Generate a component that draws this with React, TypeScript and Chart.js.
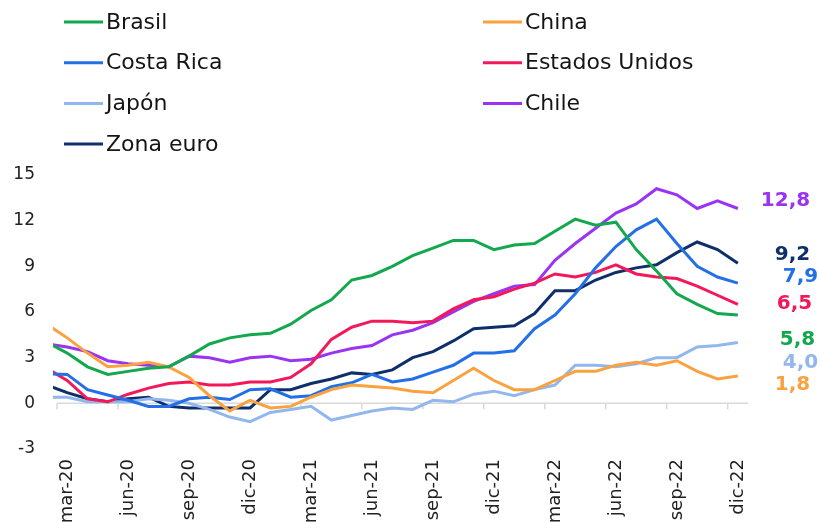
import { useEffect, useRef } from 'react';
import { Chart, registerables } from 'chart.js';

Chart.register(...registerables);

// Monthly year-on-year inflation (%), feb-20 .. dic-22 (feb-20 is only partly visible at the left edge)
const months = [
  'feb-20', 'mar-20', 'abr-20', 'may-20', 'jun-20', 'jul-20', 'ago-20', 'sep-20', 'oct-20', 'nov-20', 'dic-20',
  'ene-21', 'feb-21', 'mar-21', 'abr-21', 'may-21', 'jun-21', 'jul-21', 'ago-21', 'sep-21', 'oct-21', 'nov-21', 'dic-21',
  'ene-22', 'feb-22', 'mar-22', 'abr-22', 'may-22', 'jun-22', 'jul-22', 'ago-22', 'sep-22', 'oct-22', 'nov-22', 'dic-22',
];

const brasil = [
  4.0, 3.3, 2.4, 1.9, 2.1, 2.3, 2.4, 3.1, 3.9, 4.3, 4.5,
  4.6, 5.2, 6.1, 6.8, 8.1, 8.4, 9.0, 9.7, 10.2, 10.7, 10.7, 10.1,
  10.4, 10.5, 11.3, 12.1, 11.7, 11.9, 10.1, 8.7, 7.2, 6.5, 5.9, 5.8,
];
const china = [
  5.2, 4.3, 3.3, 2.4, 2.5, 2.7, 2.4, 1.7, 0.5, -0.5, 0.2,
  -0.3, -0.2, 0.4, 0.9, 1.2, 1.1, 1.0, 0.8, 0.7, 1.5, 2.3, 1.5,
  0.9, 0.9, 1.5, 2.1, 2.1, 2.5, 2.7, 2.5, 2.8, 2.1, 1.6, 1.8,
];
const costaRica = [
  1.95, 1.9, 0.9, 0.55, 0.2, -0.2, -0.2, 0.3, 0.4, 0.25, 0.9,
  0.95, 0.4, 0.5, 1.1, 1.35, 1.9, 1.4, 1.6, 2.05, 2.5, 3.3, 3.3,
  3.45, 4.9, 5.8, 7.2, 8.9, 10.3, 11.4, 12.1, 10.5, 9.0, 8.3, 7.9,
];
const estadosUnidos = [
  2.3, 1.5, 0.3, 0.1, 0.6, 1.0, 1.3, 1.4, 1.2, 1.2, 1.4,
  1.4, 1.7, 2.6, 4.2, 5.0, 5.4, 5.4, 5.3, 5.4, 6.2, 6.8, 7.0,
  7.5, 7.9, 8.5, 8.3, 8.6, 9.1, 8.5, 8.3, 8.2, 7.7, 7.1, 6.5,
];
const japon = [
  0.4, 0.4, 0.1, 0.1, 0.1, 0.3, 0.2, 0.0, -0.4, -0.9, -1.2,
  -0.6, -0.4, -0.2, -1.1, -0.8, -0.5, -0.3, -0.4, 0.2, 0.1, 0.6, 0.8,
  0.5, 0.9, 1.2, 2.5, 2.5, 2.4, 2.6, 3.0, 3.0, 3.7, 3.8, 4.0,
];
const chile = [
  3.9, 3.7, 3.4, 2.8, 2.6, 2.5, 2.4, 3.1, 3.0, 2.7, 3.0,
  3.1, 2.8, 2.9, 3.3, 3.6, 3.8, 4.5, 4.8, 5.3, 6.0, 6.7, 7.2,
  7.7, 7.8, 9.4, 10.5, 11.5, 12.5, 13.1, 14.1, 13.7, 12.8, 13.3, 12.8,
];
const zonaEuro = [
  1.2, 0.7, 0.3, 0.1, 0.3, 0.4, -0.2, -0.3, -0.3, -0.3, -0.3,
  0.9, 0.9, 1.3, 1.6, 2.0, 1.9, 2.2, 3.0, 3.4, 4.1, 4.9, 5.0,
  5.1, 5.9, 7.4, 7.4, 8.1, 8.6, 8.9, 9.1, 9.9, 10.6, 10.1, 9.2,
];

const seriesNames = ['Brasil', 'China', 'Costa Rica', 'Estados Unidos', 'Japón', 'Chile', 'Zona euro'];
const seriesValues = [brasil, china, costaRica, estadosUnidos, japon, chile, zonaEuro];
const seriesColors = ['#13A84E', '#F9A23F', '#2370E6', '#F2185A', '#92B7EE', '#9A34F2', '#0E2F6A'];

const xTickLabels = ['mar-20', 'jun-20', 'sep-20', 'dic-20', 'mar-21', 'jun-21', 'sep-21', 'dic-21', 'mar-22', 'jun-22', 'sep-22', 'dic-22'];
const yTickValues = [-3, 0, 3, 6, 9, 12, 15];

// pixel nudges for the end-of-line value labels (x from last point, y from last point)
const endLabelNudge: [number, number][] = [
  [42, 25], [37, 9], [45, -6], [39, -1], [45, 20], [23, -8], [37, -8],
];

const firstIndex = months.indexOf('mar-20');
const xPos = (i: number) => i - firstIndex;
const xTickValues = xTickLabels.map((l) => xPos(months.indexOf(l)));
const xMin = -0.5;
const xMax = xPos(months.length - 1) + 0.5;

const zeroAxisPlugin = {
  id: 'zeroAxis',
  beforeDatasetsDraw(chart: any) {
    const { ctx, scales } = chart;
    const x = scales.x;
    const y = scales.y;
    const y0 = y.getPixelForValue(0);
    ctx.save();
    ctx.strokeStyle = '#d9d9d9';
    ctx.lineWidth = 1.5;
    ctx.beginPath();
    ctx.moveTo(x.getPixelForValue(xMin), y0);
    ctx.lineTo(x.getPixelForValue(xMax), y0);
    xTickValues.forEach((v) => {
      const px = x.getPixelForValue(v - 0.5);
      ctx.moveTo(px, y0);
      ctx.lineTo(px, y0 + 6);
    });
    ctx.stroke();
    ctx.restore();
  },
};

const legendPlugin = {
  id: 'gridLegend',
  afterDraw(chart: any) {
    const ctx = chart.ctx;
    ctx.save();
    ctx.font = '22px "DejaVu Sans"';
    ctx.textBaseline = 'middle';
    ctx.textAlign = 'left';
    chart.data.datasets.forEach((ds: any, i: number) => {
      const col = i % 2;
      const row = Math.floor(i / 2);
      const lx = col === 0 ? 64 : 483;
      const ly = 22 + row * 40.7;
      ctx.strokeStyle = ds.borderColor;
      ctx.lineWidth = 3;
      ctx.beginPath();
      ctx.moveTo(lx, ly);
      ctx.lineTo(lx + 39, ly);
      ctx.stroke();
      ctx.fillStyle = '#151515';
      ctx.fillText(ds.label, lx + 42, ly + 1);
    });
    ctx.restore();
  },
};

const endLabelPlugin = {
  id: 'endLabels',
  afterDatasetsDraw(chart: any) {
    const ctx = chart.ctx;
    ctx.save();
    ctx.font = 'bold 20px "DejaVu Sans"';
    ctx.textBaseline = 'middle';
    ctx.textAlign = 'left';
    chart.data.datasets.forEach((ds: any, i: number) => {
      const meta = chart.getDatasetMeta(i);
      const pt = meta.data[meta.data.length - 1];
      const last = seriesValues[i][seriesValues[i].length - 1];
      const [dx, dy] = endLabelNudge[i];
      ctx.fillStyle = ds.borderColor;
      ctx.fillText(last.toFixed(1).replace('.', ','), pt.x + dx, pt.y + dy);
    });
    ctx.restore();
  },
};

export default function App() {
  const canvasRef = useRef<HTMLCanvasElement | null>(null);

  useEffect(() => {
    if (!canvasRef.current) return;
    const chart = new Chart(canvasRef.current, {
      type: 'line',
      data: {
        datasets: seriesNames.map((name, s) => ({
          label: name,
          data: seriesValues[s].map((v, i) => ({ x: xPos(i), y: v })),
          borderColor: seriesColors[s],
          backgroundColor: seriesColors[s],
          borderWidth: 3,
          pointRadius: 0,
          tension: 0,
          fill: false,
          clip: { left: 4, right: 0, top: 10, bottom: 10 },
        })),
      },
      options: {
        animation: false,
        responsive: true,
        maintainAspectRatio: false,
        layout: { padding: { top: 175, right: 72, left: 0, bottom: 0 } },
        plugins: {
          legend: { display: false },
          tooltip: { enabled: false },
        },
        scales: {
          x: {
            type: 'linear',
            min: xMin,
            max: xMax,
            grid: { display: false, drawTicks: false },
            border: { display: false },
            afterBuildTicks: (scale: any) => {
              scale.ticks = xTickValues.map((v) => ({ value: v }));
            },
            afterFit: (scale: any) => {
              scale.height = 73;
            },
            ticks: {
              autoSkip: false,
              minRotation: 90,
              maxRotation: 90,
              padding: 10,
              color: '#222222',
              font: { family: '"DejaVu Sans"', size: 18 },
              callback: (value: any) => xTickLabels[xTickValues.indexOf(Number(value))] ?? '',
            },
          },
          y: {
            min: -3,
            max: 15,
            grid: { display: false, drawTicks: false },
            border: { display: false },
            afterBuildTicks: (scale: any) => {
              scale.ticks = yTickValues.map((v) => ({ value: v }));
            },
            afterFit: (scale: any) => {
              scale.width = 57;
            },
            ticks: {
              padding: 22,
              color: '#222222',
              font: { family: '"DejaVu Sans"', size: 17 },
            },
          },
        },
      },
      plugins: [zeroAxisPlugin, endLabelPlugin, legendPlugin],
    });
    return () => chart.destroy();
  }, []);

  return (
    <div style={{ position: 'fixed', left: 0, top: 0, width: 820, height: 522, background: '#ffffff' }}>
      <canvas ref={canvasRef} />
    </div>
  );
}
